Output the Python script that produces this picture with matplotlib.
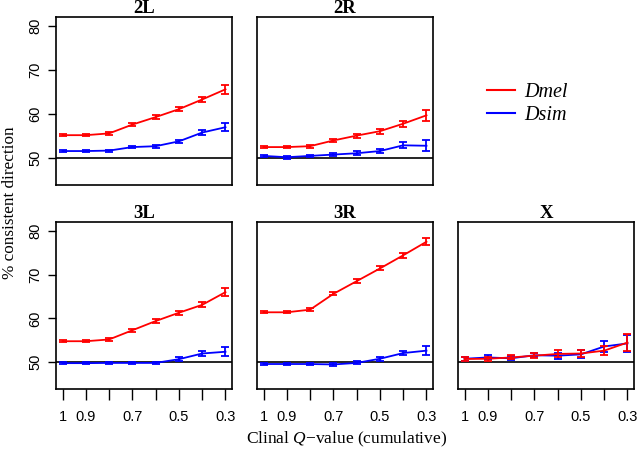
import matplotlib
matplotlib.use('Agg')
import matplotlib.pyplot as plt
from matplotlib.lines import Line2D

plt.rcParams['mathtext.fontset'] = 'custom'
plt.rcParams['mathtext.rm'] = 'Liberation Serif'
plt.rcParams['mathtext.it'] = 'Liberation Serif:italic'

# cumulative clinal Q-value thresholds
qvals = [1.0, 0.9, 0.8, 0.7, 0.6, 0.5, 0.4, 0.3]
tick_labels = ['1', '0.9', '', '0.7', '', '0.5', '', '0.3']

# % consistent direction per chromosome arm
dmel_2L = [55.2, 55.2, 55.6, 57.6, 59.3, 61.1, 63.3, 65.6]
dmel_2L_se = [0.25, 0.25, 0.3, 0.35, 0.4, 0.5, 0.6, 1.0]
dsim_2L = [51.6, 51.6, 51.7, 52.5, 52.7, 53.8, 55.8, 57.0]
dsim_2L_se = [0.25, 0.25, 0.25, 0.3, 0.3, 0.4, 0.55, 0.95]

dmel_2R = [52.5, 52.5, 52.7, 54.0, 55.1, 56.1, 57.8, 59.7]
dmel_2R_se = [0.3, 0.3, 0.3, 0.4, 0.45, 0.55, 0.7, 1.2]
dsim_2R = [50.5, 50.2, 50.5, 50.8, 51.1, 51.6, 52.9, 52.8]
dsim_2R_se = [0.3, 0.3, 0.3, 0.35, 0.45, 0.55, 0.7, 1.2]

dmel_3L = [54.8, 54.8, 55.2, 57.3, 59.4, 61.3, 63.1, 66.0]
dmel_3L_se = [0.25, 0.25, 0.3, 0.35, 0.4, 0.5, 0.6, 0.95]
dsim_3L = [49.8, 49.8, 49.85, 49.85, 49.85, 50.7, 52.0, 52.4]
dsim_3L_se = [0.2, 0.2, 0.2, 0.25, 0.3, 0.45, 0.6, 1.0]

dmel_3R = [61.4, 61.4, 62.0, 65.6, 68.5, 71.4, 74.4, 77.5]
dmel_3R_se = [0.25, 0.25, 0.3, 0.35, 0.4, 0.45, 0.5, 0.8]
dsim_3R = [49.6, 49.6, 49.6, 49.5, 49.85, 50.8, 52.1, 52.65]
dsim_3R_se = [0.25, 0.25, 0.25, 0.3, 0.35, 0.45, 0.55, 1.0]

dmel_X = [50.75, 50.8, 51.1, 51.5, 51.9, 52.0, 52.65, 54.5]
dmel_X_se = [0.4, 0.4, 0.45, 0.5, 0.8, 0.9, 1.0, 1.9]
dsim_X = [50.8, 51.1, 50.9, 51.6, 51.5, 51.8, 53.6, 54.3]
dsim_X_se = [0.4, 0.45, 0.45, 0.5, 0.7, 0.9, 1.2, 2.0]

panels = {
    '2L': (dmel_2L, dmel_2L_se, dsim_2L, dsim_2L_se),
    '2R': (dmel_2R, dmel_2R_se, dsim_2R, dsim_2R_se),
    '3L': (dmel_3L, dmel_3L_se, dsim_3L, dsim_3L_se),
    '3R': (dmel_3R, dmel_3R_se, dsim_3R, dsim_3R_se),
    'X': (dmel_X, dmel_X_se, dsim_X, dsim_X_se),
}

W, H = 641, 450
# axes boxes in pixels: left, top, right, bottom
boxes = {
    '2L': (56, 17, 232, 185),
    '2R': (257, 17, 433, 185),
    '3L': (56, 222, 232, 389),
    '3R': (257, 222, 433, 389),
    'X': (458, 222, 634, 389),
}

fig = plt.figure(figsize=(W / 100, H / 100), dpi=100)

red = '#FF0000'
blue = '#0000FF'

for name, (l, t, r, b) in boxes.items():
    ax = fig.add_axes([l / W, 1 - b / H, (r - l) / W, (b - t) / H])
    mel, mel_se, sim, sim_se = panels[name]
    ax.axhline(50, color='black', lw=1.2, zorder=1)
    ax.errorbar(qvals, sim, yerr=sim_se, color=blue, lw=1.3, capsize=3,
                capthick=1.3, elinewidth=1.3, zorder=2)
    ax.errorbar(qvals, mel, yerr=mel_se, color=red, lw=1.3, capsize=3,
                capthick=1.3, elinewidth=1.3, zorder=3)
    ax.set_xlim(1.028, 0.272)
    ax.set_ylim(43.9, 82)
    for s in ax.spines.values():
        s.set_linewidth(1.2)
    ax.set_title(name, fontfamily='Liberation Serif', fontweight='bold',
                 fontsize=13.5, pad=2)
    # y axis only on left column
    if name in ('2L', '3L'):
        ax.set_yticks([50, 60, 70, 80])
        ax.tick_params(axis='y', length=6, width=1, labelsize=10.5, pad=4)
        for lab in ax.get_yticklabels():
            lab.set_rotation(90)
            lab.set_va('center')
            lab.set_fontfamily('Liberation Sans')
    else:
        ax.set_yticks([])
    # x axis only on bottom row
    if name in ('3L', '3R', 'X'):
        ax.set_xticks(qvals)
        ax.set_xticklabels(tick_labels, fontfamily='Liberation Sans', fontsize=10.5)
        ax.tick_params(axis='x', length=8, width=1, pad=7)
    else:
        ax.set_xticks([])

fig.text(10 / W, 1 - 203 / H, '% consistent direction', rotation=90,
         ha='center', va='center', fontfamily='Liberation Serif', fontsize=12.3)
fig.text(347 / W, 1 - 439 / H, r'Clinal $\mathit{Q}$' + '\u2212value (cumulative)',
         ha='center', va='center', fontfamily='Liberation Serif', fontsize=12.5)

handles = [Line2D([], [], color=red, lw=1.5), Line2D([], [], color=blue, lw=1.5)]
fig.legend(handles, ['Dmel', 'Dsim'], loc='center left',
           bbox_to_anchor=(487 / W, 1 - 104 / H), frameon=False, borderpad=0,
           borderaxespad=0,
           prop={'family': 'Liberation Serif', 'style': 'italic', 'size': 14.5},
           handlelength=1.4, labelspacing=0.2, handletextpad=0.45)

fig.savefig('out.png', dpi=100)
